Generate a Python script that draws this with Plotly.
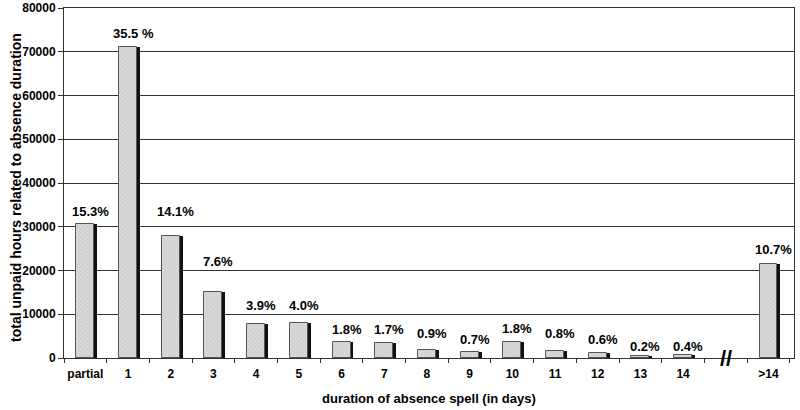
import plotly.graph_objects as go

categories = ["partial", "1", "2", "3", "4", "5", "6", "7", "8", "9", "10",
              "11", "12", "13", "14", " ", ">14"]
hours = [30650, 71100, 28000, 15200, 7800, 8000, 3650, 3400, 1800, 1350,
         3550, 1600, 1200, 400, 800, None, 21450]
pct_labels = ["15.3%", "35.5 %", "14.1%", "7.6%", "3.9%", "4.0%", "1.8%", "1.7%",
              "0.9%", "0.7%", "1.8%", "0.8%", "0.6%", "0.2%", "0.4%", "", "10.7%"]
label_y = [33440, 74210, 33440, 22170, 12110, 12110, 6550, 6550, 5640, 4340,
           6630, 5700, 4270, 2740, 2740, None, 24700]

FONT = "Arial, Liberation Sans, Helvetica, sans-serif"
BAR_W = 0.42
SHADOW_SHIFT = 0.07

fig = go.Figure()
# shadow bars
fig.add_trace(go.Bar(
    x=categories, y=hours, width=BAR_W, offset=-BAR_W / 2 + SHADOW_SHIFT,
    marker=dict(color="#111111", line=dict(width=0)),
    hoverinfo="skip", showlegend=False,
))
# main bars
fig.add_trace(go.Bar(
    x=categories, y=hours, width=BAR_W, offset=-BAR_W / 2,
    marker=dict(color="#d4d4d4",
                line=dict(width=1, color="#555555"),
                pattern=dict(shape="x", size=3, solidity=0.2,
                             fgcolor="#8f8f8f", bgcolor="#dadada")),
    showlegend=False,
))

for c, t, ly in zip(categories, pct_labels, label_y):
    if t and ly is not None:
        fig.add_annotation(x=c, y=ly, text=t, showarrow=False, xshift=5,
                           font=dict(family=FONT, size=13, color="black", weight="bold"))

# axis break mark
fig.add_annotation(x=" ", y=0, text="//", showarrow=False, yshift=0,
                   font=dict(family=FONT, size=22, color="black", weight="bold"))

# axis titles
fig.add_annotation(xref="paper", yref="paper", x=0.5, y=0, yshift=-40,
                   yanchor="middle", text="duration of absence spell (in days)",
                   showarrow=False,
                   font=dict(family=FONT, size=13, color="black", weight="bold"))
fig.add_annotation(xref="paper", yref="paper", x=0, xshift=-48, y=0.5, yshift=-5,
                   xanchor="center", textangle=-90,
                   text="total unpaid hours related to absence duration",
                   showarrow=False,
                   font=dict(family=FONT, size=14, color="black", weight="bold"))

fig.update_layout(
    width=800, height=410,
    margin=dict(l=64, r=6, t=8, b=52),
    paper_bgcolor="white", plot_bgcolor="white",
    barmode="overlay", bargap=0,
    font=dict(family=FONT, color="black"),
)
fig.update_xaxes(
    type="category", automargin=False, tickangle=0,
    showline=True, linecolor="#333333", linewidth=1, mirror=True,
    ticks="outside", ticklen=4, tickcolor="#333333", tickson="boundaries",
    showgrid=False, ticklabelstandoff=5,
    tickfont=dict(family=FONT, size=12, color="black", weight="bold"),
)
fig.update_yaxes(
    range=[0, 80000], dtick=10000, tickformat="d", automargin=False,
    showline=True, linecolor="#333333", linewidth=1, mirror=True,
    ticks="outside", ticklen=5, tickcolor="#333333",
    showgrid=True, gridcolor="#333333", gridwidth=1, zeroline=False,
    tickfont=dict(family=FONT, size=12, color="black", weight="bold"),
)

fig.write_html("out.html", config={"displayModeBar": False},
               post_script="document.body.style.margin='0';document.body.style.padding='0';")
